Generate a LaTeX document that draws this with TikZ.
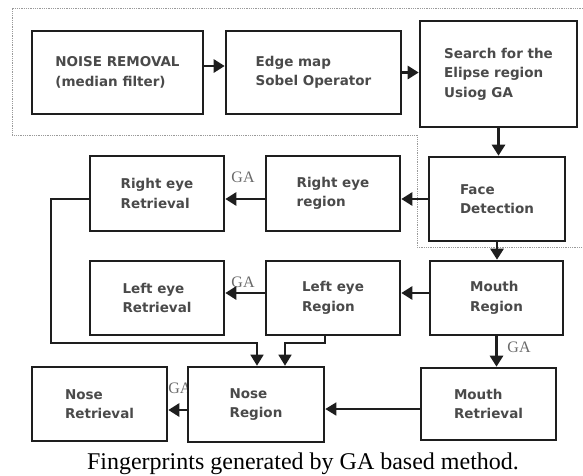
\documentclass[tikz,border=0pt]{standalone}
\usepackage{fontspec}
\setmainfont{Liberation Serif}
\newfontfamily\boxfont{DejaVu Sans}
\usepackage{tikz}
\usetikzlibrary{arrows.meta}
\definecolor{ink}{HTML}{1E1E1E}
\definecolor{boxtext}{HTML}{4A4A4A}
\definecolor{galbl}{HTML}{6A6A6A}
\definecolor{frame}{HTML}{9A9A9A}
\tikzset{
  box/.style={draw=ink,line width=2.6pt,fill=white,inner sep=0pt,align=left,text=boxtext,font={\boxfont\bfseries\fontsize{13.5}{19.5}\selectfont}},
  arrow/.style={-{Triangle[length=11pt,width=13pt]},line width=2.8pt,draw=ink},
  wire/.style={-{Triangle[length=11pt,width=13pt]},line width=1.6pt,draw=ink},
  ga/.style={font=\fontsize{16}{16}\selectfont,text=galbl,inner sep=0pt},
  frameline/.style={draw=frame,line width=0.8pt,densely dotted},
}

\begin{document}
\begin{tikzpicture}[x=1pt,y=-1pt]
    \useasboundingbox (0,0) rectangle (583,475);
    % dotted outline round the detection stage
    \draw[frameline] (583,8) -| (12,135) -| (417,247) -- (583,247);
    % GA labels (the nose boxes hide part of the last one)
    \node[ga] (gaReye) at (243,177) {GA};
    \node[ga] (gaLeye) at (243,282) {GA};
    \node[ga] (gaMouth) at (519,347) {GA};
    \node[ga] (gaNose) at (180,388) {GA};
    % top row
    \node[box,minimum width=171pt,minimum height=83pt] (noise) at (117.5,72.5) {NOISE REMOVAL\\(median filter)};
    \node[box,minimum width=175pt,minimum height=83pt] (edge) at (313.5,72.5) {Edge map\\Sobel Operator};
    \node[box,minimum width=157pt,minimum height=106pt] (search) at (498.5,74) {Search for the\\Elipse region\\Usiog GA};
    % eyes and mouth
    \node[box,minimum width=136pt,minimum height=84pt] (face) at (497,199) {Face\\Detection};
    \node[box,minimum width=134pt,minimum height=75pt] (reyereg) at (333,193.5) {Right eye\\region};
    \node[box,minimum width=134pt,minimum height=75pt] (reyeret) at (157,193.5) {Right eye\\Retrieval};
    \node[box,minimum width=133pt,minimum height=74pt] (mouthreg) at (496.5,298) {Mouth\\Region};
    \node[box,minimum width=134pt,minimum height=74pt] (leyereg) at (333,298) {Left eye\\Region};
    \node[box,minimum width=134pt,minimum height=74pt] (leyeret) at (157,298) {Left eye\\Retrieval};
    % bottom row
    \node[box,minimum width=135pt,minimum height=74pt] (noseret) at (99.5,404) {Nose\\Retrieval};
    \node[box,minimum width=136pt,minimum height=75pt] (nosereg) at (256,404.5) {Nose\\Region};
    \node[box,minimum width=135pt,minimum height=72pt] (mouthret) at (488.5,404) {Mouth\\Retrieval};
    % arrows
    \draw[arrow] ([yshift=6.5pt]noise.east) -- ([yshift=6.5pt]noise.east -| edge.west);
    \draw[arrow] (edge.east) -- (edge.east -| search.west);
    \draw[arrow] (search.south) -- (search.south |- face.north);
    \draw[arrow] (face.west) -- (face.west -| reyereg.east);
    \draw[arrow] (reyereg.west |- face.west) -- (reyeret.east |- face.west);
    \draw[arrow] (face.south) -- (face.south |- mouthreg.north);
    \draw[arrow] ([yshift=5pt]mouthreg.west) -- ([yshift=5pt]mouthreg.west -| leyereg.east);
    \draw[arrow] ([yshift=5pt]leyereg.west) -- ([yshift=5pt]leyeret.east);
    \draw[arrow] (mouthreg.south) -- (mouthreg.south |- mouthret.north);
    \draw[wire] ([yshift=-5pt]mouthret.west) -- ([yshift=-5pt]mouthret.west -| nosereg.east);
    \draw[arrow] ([yshift=-5.5pt]nosereg.west) -- ([yshift=-5.5pt]nosereg.west -| noseret.east);
    % eye retrievals feed the nose region
    \draw[wire] (reyeret.west |- face.west) -- ++(-38,0) |- ([xshift=1pt,yshift=23pt]nosereg.north) -- ([xshift=1pt]nosereg.north);
    \draw[wire] ([xshift=-8pt]leyereg.south) |- ([xshift=29pt,yshift=23pt]nosereg.north) -- ([xshift=29pt]nosereg.north);
    % caption
    \node[font=\fontsize{24}{24}\selectfont,anchor=base] (caption) at (303,469) {Fingerprints generated by GA based method.};
\end{tikzpicture}
\end{document}
